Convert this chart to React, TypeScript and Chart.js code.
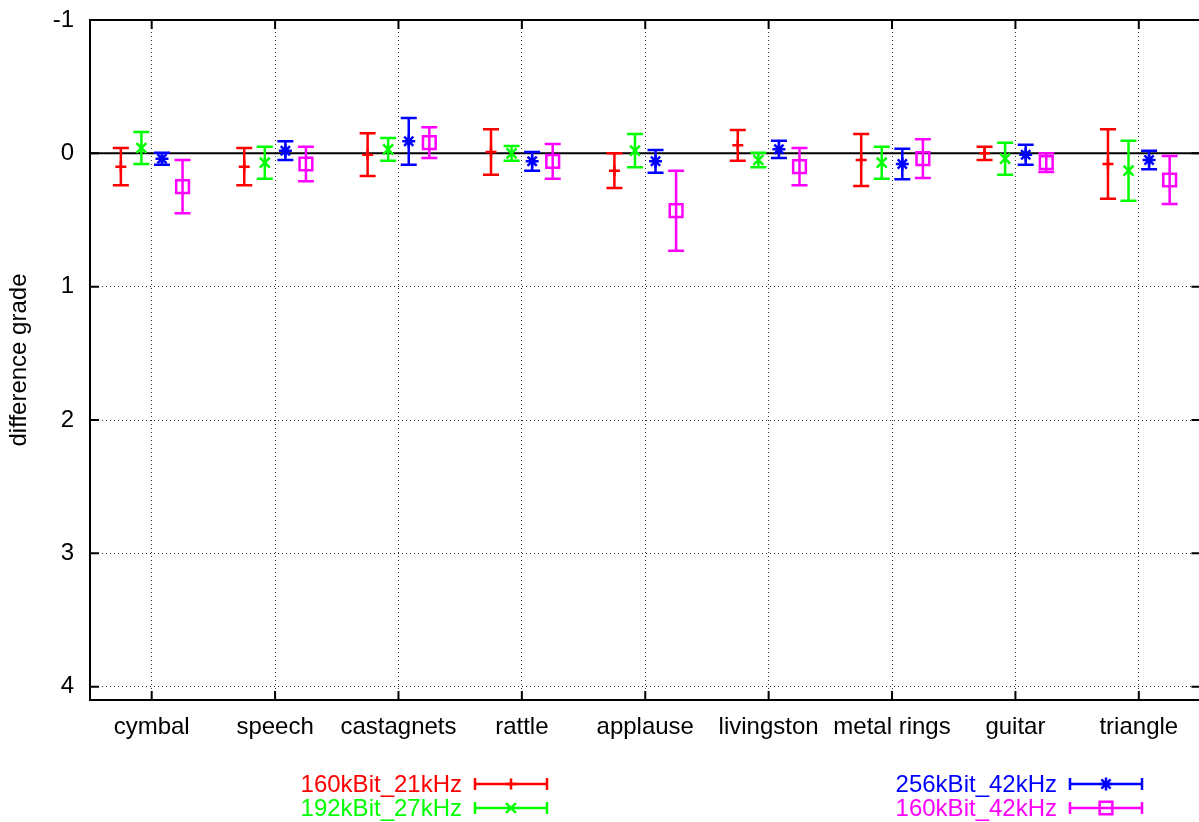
import React, { useEffect, useRef } from 'react';
import { Chart, registerables } from 'chart.js';
import { drawPoint } from 'chart.js/helpers';

Chart.register(...registerables);

const categories = ['cymbal', 'speech', 'castagnets', 'rattle', 'applause', 'livingston', 'metal rings', 'guitar', 'triangle'];
const xTicks = [1, 2, 3, 4, 5, 6, 7, 8, 9];
const yTicks = [-1, 0, 1, 2, 3, 4];

const seriesLabels = ['160kBit_21kHz', '192kBit_27kHz', '256kBit_42kHz', '160kBit_42kHz'];
const seriesColors = ['#ff0000', '#00ff00', '#0000ff', '#ff00ff'];
const seriesMarkers = ['cross', 'crossRot', 'star', 'rect'];
const seriesMarkerRadius = [5.5, 7, 6.5, 9];
const seriesOffsets = [-0.25, -1 / 12, 1 / 12, 0.25];

const mean160k21 = [0.10, 0.10, 0.01, -0.01, 0.13, -0.06, 0.05, 0.00, 0.08];
const err160k21 = [0.14, 0.14, 0.16, 0.17, 0.13, 0.115, 0.195, 0.05, 0.26];
const mean192k27 = [-0.04, 0.07, -0.03, 0.00, -0.02, 0.05, 0.07, 0.04, 0.13];
const err192k27 = [0.12, 0.12, 0.085, 0.055, 0.125, 0.055, 0.12, 0.12, 0.225];
const mean256k42 = [0.04, -0.02, -0.09, 0.06, 0.06, -0.03, 0.08, 0.01, 0.05];
const err256k42 = [0.045, 0.07, 0.175, 0.07, 0.085, 0.065, 0.115, 0.075, 0.07];
const mean160k42 = [0.25, 0.08, -0.08, 0.06, 0.43, 0.10, 0.04, 0.07, 0.20];
const err160k42 = [0.20, 0.13, 0.115, 0.13, 0.30, 0.14, 0.145, 0.07, 0.18];

const seriesMeans = [mean160k21, mean192k27, mean256k42, mean160k42];
const seriesErrors = [err160k21, err192k27, err256k42, err160k42];

const FONT = "'Liberation Sans', Arial, Helvetica, sans-serif";
const FONT_SIZE = 24;
const LINE_W = 2.5;

const gnuplotPlugin = {
  id: 'gnuplotDecor',
  beforeDatasetsDraw(chart: any) {
    const { ctx, chartArea } = chart;
    const xs = chart.scales.x;
    const ys = chart.scales.y;
    ctx.save();
    // zero axis
    const y0 = ys.getPixelForValue(0);
    ctx.strokeStyle = '#000';
    ctx.lineWidth = 2;
    ctx.beginPath();
    ctx.moveTo(chartArea.left, y0);
    ctx.lineTo(chartArea.right, y0);
    ctx.stroke();
    // frame
    ctx.strokeRect(chartArea.left, chartArea.top, chartArea.right - chartArea.left, chartArea.bottom - chartArea.top);
    // inward ticks
    const tl = 9;
    ctx.lineWidth = 2;
    ctx.beginPath();
    yTicks.forEach((v) => {
      const p = ys.getPixelForValue(v);
      ctx.moveTo(chartArea.left, p);
      ctx.lineTo(chartArea.left + tl, p);
      ctx.moveTo(chartArea.right, p);
      ctx.lineTo(chartArea.right - tl, p);
    });
    xTicks.forEach((v) => {
      const p = xs.getPixelForValue(v);
      ctx.moveTo(p, chartArea.bottom);
      ctx.lineTo(p, chartArea.bottom - tl);
      ctx.moveTo(p, chartArea.top);
      ctx.lineTo(p, chartArea.top + tl);
    });
    ctx.stroke();
    // error bars
    chart.data.datasets.forEach((ds: any, di: number) => {
      const meta = chart.getDatasetMeta(di);
      ctx.strokeStyle = ds.borderColor;
      ctx.lineWidth = LINE_W;
      meta.data.forEach((el: any, i: number) => {
        const m = seriesMeans[di][i];
        const e = seriesErrors[di][i];
        const yt = ys.getPixelForValue(m - e);
        const yb = ys.getPixelForValue(m + e);
        const x = el.x;
        const cw = 8;
        ctx.beginPath();
        ctx.moveTo(x, yt);
        ctx.lineTo(x, yb);
        ctx.moveTo(x - cw, yt);
        ctx.lineTo(x + cw, yt);
        ctx.moveTo(x - cw, yb);
        ctx.lineTo(x + cw, yb);
        ctx.stroke();
      });
    });
    ctx.restore();
  },
  afterDraw(chart: any) {
    const { ctx } = chart;
    ctx.save();
    ctx.font = `${FONT_SIZE}px ${FONT}`;
    ctx.textAlign = 'right';
    ctx.textBaseline = 'middle';
    const textRight = [462, 1057];
    const lineStart = [475, 1070];
    const lineLen = 72;
    seriesLabels.forEach((label, i) => {
      const col = i < 2 ? 0 : 1;
      const row = i % 2;
      const y = 784 + row * 24;
      const color = seriesColors[i];
      ctx.fillStyle = color;
      ctx.fillText(label, textRight[col], y + 1);
      const x0 = lineStart[col];
      const x1 = x0 + lineLen;
      ctx.strokeStyle = color;
      ctx.lineWidth = LINE_W;
      ctx.beginPath();
      ctx.moveTo(x0, y);
      ctx.lineTo(x1, y);
      ctx.moveTo(x0, y - 6);
      ctx.lineTo(x0, y + 6);
      ctx.moveTo(x1, y - 6);
      ctx.lineTo(x1, y + 6);
      ctx.stroke();
      ctx.fillStyle = 'rgba(0,0,0,0)';
      drawPoint(ctx, { pointStyle: seriesMarkers[i], radius: seriesMarkerRadius[i], borderWidth: LINE_W, rotation: 0 } as any, (x0 + x1) / 2, y);
    });
    ctx.restore();
  },
};

export default function App() {
  const canvasRef = useRef<HTMLCanvasElement | null>(null);

  useEffect(() => {
    document.body.style.margin = '0';
    document.documentElement.style.overflow = 'hidden';
    document.body.style.overflow = 'hidden';
    const canvas = canvasRef.current;
    if (!canvas) return;

    const datasets = seriesLabels.map((label, si) => ({
      label,
      data: seriesMeans[si].map((m, i) => ({ x: xTicks[i] + seriesOffsets[si], y: m })),
      showLine: false,
      borderColor: seriesColors[si],
      backgroundColor: 'rgba(0,0,0,0)',
      pointStyle: seriesMarkers[si],
      pointRadius: seriesMarkerRadius[si],
      pointBorderWidth: LINE_W,
      pointBorderColor: seriesColors[si],
      pointBackgroundColor: 'rgba(0,0,0,0)',
    }));

    const chart = new Chart(canvas, {
      type: 'scatter',
      data: { datasets } as any,
      options: {
        animation: false,
        responsive: false,
        devicePixelRatio: 1,
        layout: { padding: { top: 20, right: 9, bottom: 0, left: 0 } },
        plugins: {
          legend: { display: false },
          tooltip: { enabled: false },
        },
        scales: {
          x: {
            type: 'linear',
            min: 0.5,
            max: 9.5,
            afterBuildTicks: (scale: any) => {
              scale.ticks = xTicks.map((v) => ({ value: v }));
            },
            afterFit: (scale: any) => {
              scale.height = 122;
              scale.paddingLeft = 0;
              scale.paddingRight = 0;
            },
            ticks: {
              autoSkip: false,
              maxRotation: 0,
              padding: 13,
              color: '#000',
              font: { family: FONT, size: FONT_SIZE },
              callback: (v: any) => categories[Math.round(Number(v)) - 1] ?? '',
            },
            grid: {
              color: 'rgba(0,0,0,0.8)',
              lineWidth: 1,
              drawTicks: false,
            },
            border: { display: false, dash: [1, 3] },
          },
          y: {
            type: 'linear',
            reverse: true,
            min: -1,
            max: 4.1,
            afterBuildTicks: (scale: any) => {
              scale.ticks = yTicks.map((v) => ({ value: v }));
            },
            afterFit: (scale: any) => {
              scale.width = 90;
              scale.paddingTop = 0;
              scale.paddingBottom = 0;
            },
            ticks: {
              padding: 16,
              color: '#000',
              font: { family: FONT, size: FONT_SIZE },
              callback: (v: any) => String(v),
            },
            grid: {
              color: 'rgba(0,0,0,0.8)',
              lineWidth: 1,
              drawTicks: false,
            },
            border: { display: false, dash: [1, 3] },
            title: {
              display: true,
              text: 'difference grade',
              color: '#000',
              font: { family: FONT, size: FONT_SIZE },
              padding: { top: 5, bottom: 0 },
            },
          },
        },
      } as any,
      plugins: [gnuplotPlugin],
    });

    return () => {
      chart.destroy();
    };
  }, []);

  return (
    <div style={{ width: 1199, height: 822, overflow: 'hidden', position: 'relative', background: '#fff' }}>
      <canvas ref={canvasRef} width={1212} height={822} style={{ width: 1212, height: 822, display: 'block' }} />
    </div>
  );
}
